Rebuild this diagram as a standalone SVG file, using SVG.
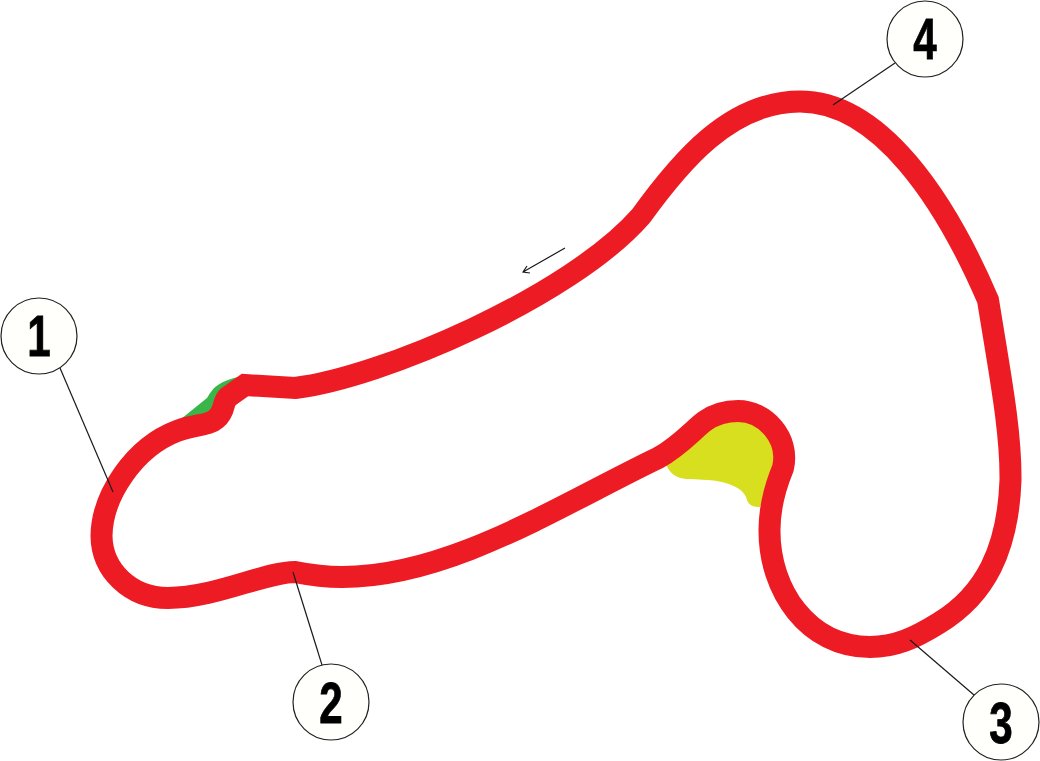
<svg xmlns="http://www.w3.org/2000/svg" width="1040" height="761" viewBox="0 0 1040 761">
<style>
.track{fill:none;stroke:#ed1c24;stroke-width:22;stroke-linejoin:miter}
.lead{fill:none;stroke:#1a1a1a;stroke-width:1.2}
.badge{fill:#fffffb;stroke:#231f20;stroke-width:1.2}
.num{font-family:"Liberation Sans",Arial,sans-serif;font-weight:700;font-size:57px;fill:#000;text-anchor:middle;stroke:#000;stroke-width:.8}
</style>
<rect width="1040" height="761" fill="#fff"/>
<path id="grass" d="M181 419L207 398C211 392 213 388 218 385C224 381 230 379 238 377L250 385L225 420L190 428Z" fill="#39b54a"/>
<path id="sand" d="M666 465C672 477 680 479 690 479L707 480C725 481 742 487 746 497C748 505 752 507 760 507L785 450L770 420L730 412L690 430Z" fill="#d7df1f"/>
<path id="track" class="track" d="M295 388C380 378 570 297 641 216C680 162 730 101.500 800 101.500C880 101.500 945 200 988 300C1000 375 1011 430 1010.500 480C1008 550 985 595 939 623C915 638 895 647 870 647C808 647 769 590 769.500 530C769.500 505 776 485 783 468C790 438 765 411 738 411C725 411 715 414 705 421C695 428 680 446 658 458C560 505 450 577 342 577C325 577 310 575 295 572C265 572 215 598 168 598C130 598 102 570 101.500 536C102 495 135 447 177 431C195 424 208 426 216 419C226 411 222 402 228 397L245 385Z"/>
<g id="connectors">
<path class="lead" d="M60 368L113 492"/>
<path class="lead" d="M293 572L322 665"/>
<path class="lead" d="M910 640L974 695"/>
<path class="lead" d="M895 63L833 105"/>
<path d="M565 248L523 272M527 266L523 272L530 273" fill="none" stroke="#1a1a1a" stroke-width="1.2"/>
</g>
<g id="node-1"><circle class="badge" cx="39" cy="336" r="38"/><text class="num" transform="translate(39 356) scale(.74 1)">1</text></g>
<g id="node-2"><circle class="badge" cx="331" cy="702" r="38"/><text class="num" transform="translate(331 723) scale(.74 1)">2</text></g>
<g id="node-3"><circle class="badge" cx="1001" cy="722" r="38"/><text class="num" transform="translate(1001 743) scale(.74 1)">3</text></g>
<g id="node-4"><circle class="badge" cx="925" cy="39" r="38"/><text class="num" transform="translate(925 59) scale(.74 1)">4</text></g>
</svg>
